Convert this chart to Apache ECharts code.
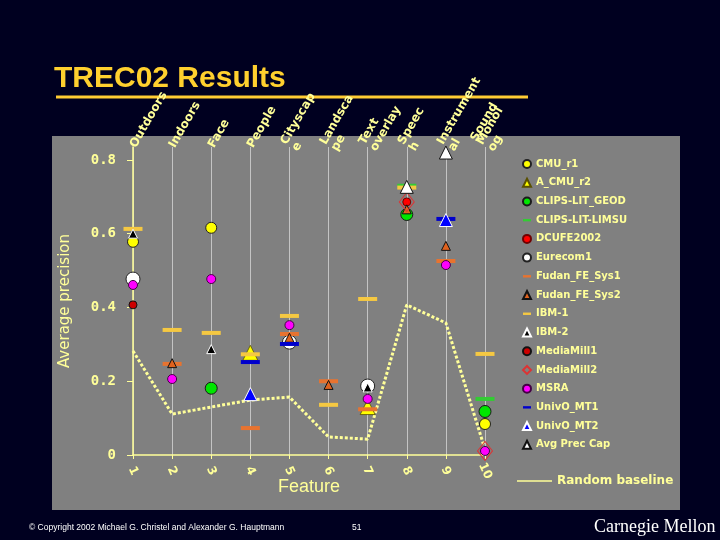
<!DOCTYPE html>
<html><head><meta charset="utf-8">
<script src="https://cdn.jsdelivr.net/npm/echarts@6/dist/echarts.min.js"></script>
<style>html,body{margin:0;padding:0;background:#000020;}#c{width:720px;height:540px;}</style>
</head><body><div id="c"></div>
<script>
// ---- data ----
var features = [1, 2, 3, 4, 5, 6, 7, 8, 9, 10];
var featureNames = ['Outdoors', 'Indoors', 'Face', 'People', 'Cityscap\ne', 'Landsca\npe', 'Text\noverlay', 'Speec\nh', 'Instrument\nal', '{s|Sound}\n{m|Monol}\n{m|og}'];
var yTicks = [0, 0.2, 0.4, 0.6, 0.8];

var CMU_r1         = [0.578, null, 0.616, null, null, null, null, null, null, 0.084];
var A_CMU_r2       = [null, null, null, 0.277, null, null, 0.130, null, null, null];
var CLIPS_GEOD     = [null, null, 0.181, null, null, null, null, 0.652, null, 0.118];
var CLIPS_LIMSU    = [null, null, null, null, null, null, null, 0.730, null, 0.152];
var DCUFE2002      = [null, null, null, null, null, null, null, 0.686, null, null];
var Eurecom1       = [0.477, null, null, null, 0.306, null, 0.187, null, null, null];
var Fudan_Sys1     = [null, 0.247, null, 0.073, 0.328, 0.200, 0.124, null, 0.526, null];
var Fudan_Sys2     = [null, 0.249, null, null, 0.318, 0.190, null, 0.666, 0.567, null];
var IBM_1          = [0.613, 0.339, 0.331, 0.273, 0.377, 0.136, 0.423, 0.725, null, 0.274];
var IBM_2          = [0.600, null, 0.287, null, null, null, 0.183, null, null, null];
var MediaMill1     = [0.407, null, null, null, null, null, null, null, null, null];
var MediaMill2     = [null, null, null, null, null, null, null, 0.686, null, 0.011];
var MSRA           = [0.461, 0.206, 0.477, null, 0.352, null, 0.152, null, 0.515, 0.011];
var UnivO_MT1      = [null, null, null, 0.252, 0.301, null, null, null, 0.640, null];
var UnivO_MT2      = [null, null, null, 0.165, null, null, null, null, 0.637, null];
var AvgPrecCap     = [null, null, null, null, null, null, null, 0.727, 0.820, null];
var RandomBaseline = [0.282, 0.111, 0.130, 0.149, 0.157, 0.049, 0.043, 0.407, 0.358, 0.015];

// ---- build ----
function pts(arr) {
  var out = [];
  for (var i = 0; i < features.length; i++) if (arr[i] != null) out.push([features[i], arr[i]]);
  return out;
}
var DASH_ICON = 'path://M0,0 M10,10 M0,3.5 L10,3.5 L10,6.5 L0,6.5 Z';
var pale = '#FFFF99';

function sc(name, arr, symbol, size, color, border, bw) {
  return {
    name: name, type: 'scatter', data: pts(arr), symbol: symbol, symbolSize: size,
    itemStyle: { color: color, borderColor: border || 'transparent', borderWidth: bw == null ? 1 : bw, opacity: 1 },
    emphasis: { disabled: true }, z: 3
  };
}
var series = [
  sc('CMU_r1', CMU_r1, 'circle', 11, '#FFFF00', '#222', 1),
  sc('A_CMU_r2', A_CMU_r2, 'triangle', 15, '#FFFF00', '#5a5000', 0.8),
  sc('CLIPS-LIT_GEOD', CLIPS_GEOD, 'circle', 12, '#00E600', '#1a1a1a', 1),
  sc('CLIPS-LIT-LIMSU', CLIPS_LIMSU, 'rect', [19, 4], '#33CC33', null, 0),
  sc('DCUFE2002', DCUFE2002, 'circle', 8, '#FF0000', '#700000', 1),
  sc('Eurecom1', Eurecom1, 'circle', 14, '#FFFFFF', '#222', 1),
  sc('Fudan_FE_Sys1', Fudan_Sys1, 'rect', [19, 4], '#E8732F', null, 0),
  sc('Fudan_FE_Sys2', Fudan_Sys2, 'triangle', 9, '#E0621E', '#111', 1),
  sc('IBM-1', IBM_1, 'rect', [19, 4], '#F5C842', null, 0),
  sc('IBM-2', IBM_2, 'triangle', 9, '#000000', '#FFFFFF', 1),
  sc('MediaMill1', MediaMill1, 'circle', 8, '#CC0000', '#111', 1),
  sc('MediaMill2', MediaMill2, 'diamond', [15, 19], 'rgba(0,0,0,0)', '#DD3333', 1),
  sc('MSRA', MSRA, 'circle', 9, '#FF00FF', '#440044', 1),
  sc('UnivO_MT1', UnivO_MT1, 'rect', [19, 4], '#0000CC', null, 0),
  sc('UnivO_MT2', UnivO_MT2, 'triangle', 13, '#0000FF', '#FFFFFF', 1),
  sc('Avg Prec Cap', AvgPrecCap, 'triangle', 13, '#FFFFFF', '#111', 1),
  {
    name: 'Random baseline', type: 'line', data: pts(RandomBaseline), showSymbol: false, symbol: 'none',
    color: pale, lineStyle: { color: pale, width: 3, type: [3, 2] }, z: 2, emphasis: { disabled: true }
  }
];
var legendNames = series.slice(0, 16).map(function (s) {
  var d = { name: s.name };
  if (s.symbol === 'rect') d.icon = DASH_ICON;
  return d;
});

var chart = echarts.init(document.getElementById('c'), null, { renderer: 'canvas' });
chart.setOption({
  backgroundColor: '#000020',
  animation: false,
  textStyle: { fontFamily: 'DejaVu Sans' },
  title: [
    { text: 'TREC02 Results', left: 54, top: 64, padding: 0,
      textStyle: { color: '#FFD02E', fontSize: 30, fontWeight: 'bold', fontFamily: 'Liberation Sans',
        textShadowColor: '#4a3a00', textShadowOffsetX: 2, textShadowOffsetY: 2, textShadowBlur: 0 } },
    { text: '\u00A9 Copyright 2002 Michael G. Christel and Alexander G. Hauptmann', left: 29, top: 523, padding: 0,
      textStyle: { color: '#FFFFFF', fontSize: 8.5, fontWeight: 'normal', fontFamily: 'Liberation Sans' } },
    { text: '51', left: 352, top: 523, padding: 0,
      textStyle: { color: '#FFFFFF', fontSize: 8.5, fontWeight: 'normal', fontFamily: 'Liberation Sans' } },
    { text: 'Carnegie Mellon', left: 594, top: 518, padding: 0,
      textStyle: { color: '#FFFFFF', fontSize: 18, fontWeight: 'normal', fontFamily: 'Liberation Serif' } }
  ],
  graphic: [
    { type: 'rect', silent: true, z: -10, shape: { x: 52, y: 136, width: 628, height: 374 }, style: { fill: '#808080' } },
    { type: 'line', silent: true, z: -10, shape: { x1: 56, y1: 97, x2: 528, y2: 97 }, style: { stroke: '#FFCC33', lineWidth: 3 } }
  ],
  grid: { left: 133, right: 235, top: 147, bottom: 85 },
  xAxis: [
    {
      type: 'value', min: 1, max: 10, interval: 1, position: 'bottom',
      name: 'Feature', nameLocation: 'middle', nameGap: 23, nameMoveOverlap: false,
      nameTextStyle: { color: pale, fontSize: 18, fontFamily: 'Liberation Sans', verticalAlign: 'top' },
      axisLine: { show: true, onZero: false, lineStyle: { color: pale, width: 1.5 } },
      axisTick: { show: true, length: 4, lineStyle: { color: pale } },
      axisLabel: { color: pale, fontSize: 12, fontWeight: 'bold', rotate: -65, margin: 16,
        align: 'center', verticalAlign: 'middle',
        formatter: function (v) { return String(v); } },
      splitLine: { show: true, lineStyle: { color: '#C4C4C4', width: 1 } }
    },
    {
      type: 'value', min: 1, max: 10, position: 'top',
      axisLine: { show: false }, axisTick: { show: false }, splitLine: { show: false },
      axisLabel: {
        customValues: features, rotate: 60, margin: 0, color: pale, fontSize: 12, fontWeight: 'bold',
        lineHeight: 13,
        formatter: function (v) { return featureNames[Math.round(v) - 1]; },
        rich: { s: { lineHeight: 1, color: pale, fontSize: 12, fontWeight: 'bold' }, m: { lineHeight: 13, color: pale, fontSize: 12, fontWeight: 'bold' } }
      }
    }
  ],
  yAxis: {
    type: 'value', min: 0, max: 0.835,
    name: 'Average precision', nameLocation: 'middle', nameGap: 60, nameMoveOverlap: false,
    nameTextStyle: { color: pale, fontSize: 15, fontFamily: 'DejaVu Sans' },
    axisLine: { show: true, lineStyle: { color: pale, width: 1.5 } },
    axisTick: { show: true, length: 6, customValues: yTicks, lineStyle: { color: pale } },
    axisLabel: { customValues: yTicks, color: pale, fontSize: 14, fontWeight: 'bold', fontFamily: 'DejaVu Sans Mono', margin: 17,
      formatter: function (v) { return v === 0 ? '0' : v.toFixed(1); } },
    splitLine: { show: false }
  },
  legend: [
    {
      orient: 'vertical', left: 517, top: 153, itemWidth: 8, itemHeight: 8, itemGap: 6.72,
      data: legendNames, selectedMode: false,
      textStyle: { color: pale, fontSize: 10, fontWeight: 'bold', fontFamily: 'DejaVu Sans', lineHeight: 12 }
    },
    {
      orient: 'vertical', left: 512, top: 468, itemWidth: 35, itemHeight: 1.5,
      data: [{ name: 'Random baseline', icon: 'rect' }], selectedMode: false,
      textStyle: { color: pale, fontSize: 12, fontWeight: 'bold', fontFamily: 'DejaVu Sans', lineHeight: 16 }
    }
  ],
  series: series
});
</script></body></html>
